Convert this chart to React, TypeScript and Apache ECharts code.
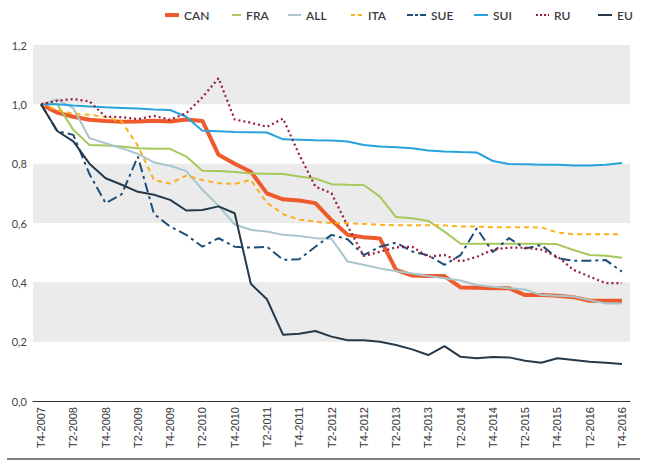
import React, { useEffect, useRef } from "react";
import * as echarts from "echarts";

const categories: string[] = [];
const quarterLabels = ["T4-2007"];
for (let y = 2008; y <= 2016; y++) {
  for (let q = 1; q <= 4; q++) quarterLabels.push(`T${q}-${y}`);
}
categories.push(...quarterLabels);

const CAN = [1.0, 0.972, 0.958, 0.948, 0.944, 0.941, 0.942, 0.945, 0.942, 0.949, 0.944, 0.83, 0.80, 0.773, 0.70, 0.68, 0.676, 0.667, 0.61, 0.56, 0.552, 0.548, 0.442, 0.423, 0.421, 0.421, 0.383, 0.382, 0.38, 0.38, 0.357, 0.357, 0.355, 0.35, 0.338, 0.338, 0.338];
const FRA = [1.0, 1.0, 0.914, 0.863, 0.861, 0.858, 0.852, 0.85, 0.85, 0.824, 0.776, 0.775, 0.772, 0.767, 0.766, 0.765, 0.757, 0.75, 0.731, 0.729, 0.728, 0.689, 0.62, 0.616, 0.607, 0.571, 0.53, 0.53, 0.53, 0.53, 0.53, 0.53, 0.528, 0.509, 0.492, 0.49, 0.483];
const ALL = [1.0, 1.017, 0.987, 0.886, 0.869, 0.852, 0.833, 0.804, 0.793, 0.775, 0.712, 0.658, 0.595, 0.577, 0.571, 0.56, 0.556, 0.549, 0.547, 0.47, 0.459, 0.447, 0.438, 0.43, 0.421, 0.414, 0.406, 0.391, 0.385, 0.38, 0.376, 0.357, 0.355, 0.352, 0.34, 0.329, 0.329];
const ITA = [1.0, 0.981, 0.968, 0.965, 0.957, 0.942, 0.86, 0.745, 0.733, 0.76, 0.745, 0.734, 0.732, 0.745, 0.668, 0.63, 0.611, 0.605, 0.6, 0.599, 0.597, 0.594, 0.592, 0.592, 0.592, 0.592, 0.588, 0.588, 0.586, 0.586, 0.586, 0.585, 0.568, 0.562, 0.562, 0.562, 0.562];
const SUE = [1.0, 0.91, 0.897, 0.765, 0.667, 0.697, 0.824, 0.63, 0.588, 0.56, 0.52, 0.549, 0.52, 0.517, 0.52, 0.476, 0.478, 0.52, 0.56, 0.545, 0.492, 0.52, 0.534, 0.504, 0.491, 0.459, 0.492, 0.582, 0.502, 0.549, 0.514, 0.526, 0.481, 0.473, 0.473, 0.475, 0.436];
const SUI = [1.0, 1.0, 0.996, 0.993, 0.99, 0.988, 0.986, 0.983, 0.981, 0.958, 0.911, 0.909, 0.907, 0.906, 0.905, 0.882, 0.881, 0.879, 0.878, 0.875, 0.863, 0.858, 0.855, 0.852, 0.844, 0.841, 0.839, 0.838, 0.809, 0.799, 0.798, 0.796, 0.796, 0.794, 0.794, 0.796, 0.802];
const RU = [1.0, 1.012, 1.018, 1.01, 0.958, 0.957, 0.95, 0.961, 0.948, 0.97, 1.024, 1.088, 0.949, 0.938, 0.924, 0.952, 0.83, 0.723, 0.70, 0.59, 0.489, 0.503, 0.518, 0.52, 0.486, 0.492, 0.47, 0.486, 0.51, 0.517, 0.517, 0.51, 0.487, 0.442, 0.419, 0.397, 0.397];
const EU = [1.0, 0.91, 0.875, 0.80, 0.751, 0.729, 0.705, 0.695, 0.678, 0.642, 0.644, 0.656, 0.633, 0.395, 0.343, 0.223, 0.227, 0.236, 0.217, 0.205, 0.205, 0.2, 0.189, 0.174, 0.155, 0.185, 0.149, 0.144, 0.148, 0.147, 0.136, 0.129, 0.144, 0.138, 0.132, 0.129, 0.125];

const seriesNames = ["CAN", "FRA", "ALL", "ITA", "SUE", "SUI", "RU", "EU"];
const seriesData = [CAN, FRA, ALL, ITA, SUE, SUI, RU, EU];

const styles: Record<string, any> = {
  CAN: { color: "#ee5a2b", width: 4, type: "solid" },
  FRA: { color: "#a6c85c", width: 2, type: "solid" },
  ALL: { color: "#a9c6cc", width: 2, type: "solid" },
  ITA: { color: "#fbb11a", width: 2, type: [5, 4] },
  SUE: { color: "#1d4e78", width: 2, type: [10, 4, 3, 4] },
  SUI: { color: "#28a2dc", width: 2, type: "solid" },
  RU: { color: "#9b1b40", width: 2.2, type: [2, 3] },
  EU: { color: "#25394a", width: 2, type: "solid" },
};
const legendLeft: Record<string, number> = { CAN: 163, FRA: 231, ALL: 287, ITA: 350, SUE: 406, SUI: 473, RU: 535, EU: 597 };
const legendWidth: Record<string, number> = { CAN: 14, FRA: 9, ALL: 13, ITA: 12, SUE: 19, SUI: 14, RU: 13, EU: 14 };
const legendDash: Record<string, any> = { ITA: [4, 3], SUE: [6, 2, 3, 2], RU: [2, 2] };

export default function App() {
  const ref = useRef<HTMLDivElement>(null);
  useEffect(() => {
    if (!ref.current) return;
    const chart = echarts.init(ref.current, undefined, { renderer: "svg" });
    chart.setOption({
      animation: false,
      backgroundColor: "#ffffff",
      grid: { left: 33, right: 20, top: 45, bottom: 65 },
      legend: seriesNames.map((n) => ({
        data: [n],
        left: legendLeft[n],
        top: 9,
        itemWidth: legendWidth[n],
        itemHeight: 14,
        itemGap: 4,
        padding: 0,
        itemStyle: { color: "transparent", borderColor: "transparent", borderWidth: 0 },
        lineStyle: { width: n === "CAN" ? 4 : 2, type: legendDash[n] || "solid" },
        textStyle: { fontSize: 12, fontWeight: 600, color: "#3c3c3c", fontFamily: "Lato, sans-serif" },
      })),
      xAxis: {
        type: "category",
        data: categories,
        boundaryGap: true,
        axisLine: { lineStyle: { color: "#333", width: 1 } },
        axisTick: { interval: 0, length: 5, lineStyle: { color: "#333" } },
        axisLabel: { interval: 1, rotate: 90, fontSize: 11, color: "#333", fontFamily: "Liberation Sans, Arial, sans-serif", margin: 6 },
        splitLine: { show: false },
      },
      yAxis: {
        type: "value",
        min: 0,
        max: 1.2,
        interval: 0.2,
        axisLine: { show: false },
        axisTick: { show: false },
        splitLine: { show: false },
        splitArea: { show: true, areaStyle: { color: ["rgba(255,255,255,0)", "#ebebeb"] } },
        axisLabel: {
          fontSize: 11,
          color: "#444",
          margin: 6,
          fontFamily: "Lato, sans-serif",
          formatter: (v: number) => v.toFixed(1).replace(".", ","),
        },
      },
      graphic: [
        { type: "line", shape: { x1: 7, y1: 459, x2: 640, y2: 459 }, style: { stroke: "#555", lineWidth: 1.5 } },
      ],
      series: seriesNames.map((n, i) => ({
        name: n,
        type: "line",
        data: seriesData[i],
        symbol: "none",
        smooth: false,
        color: styles[n].color,
        lineStyle: { color: styles[n].color, width: styles[n].width, type: styles[n].type },
      })),
    });
    return () => chart.dispose();
  }, []);
  return <div ref={ref} style={{ position: "absolute", left: 0, top: 0, width: 650, height: 466 }} />;
}
